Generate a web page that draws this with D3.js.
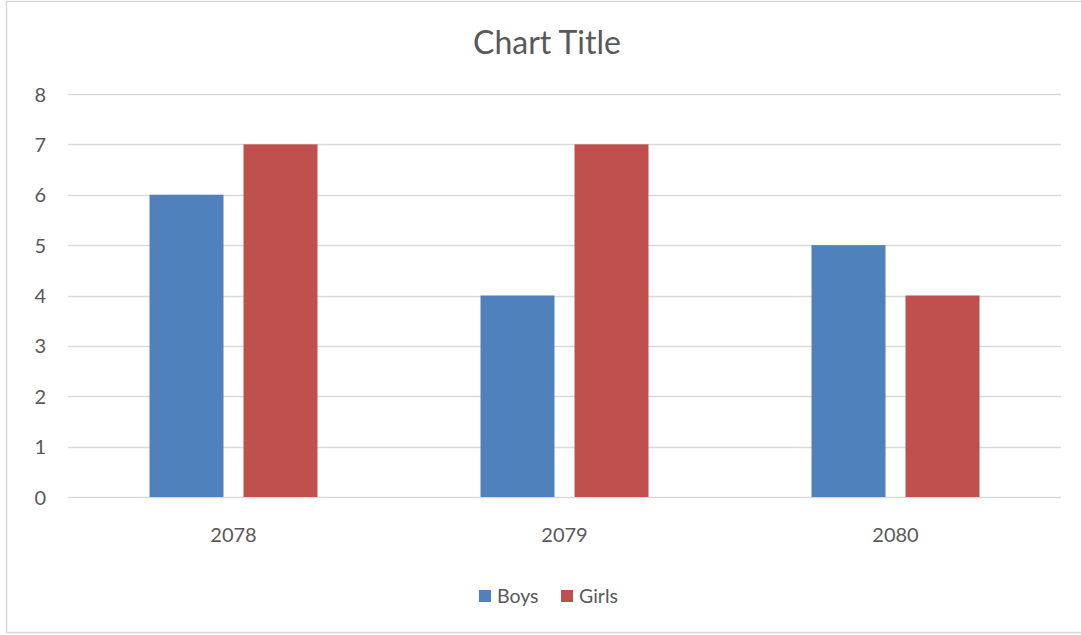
<!DOCTYPE html>
<html><head><meta charset="utf-8">
<script src="https://cdn.jsdelivr.net/npm/d3@7"></script>
<style>body{margin:0;background:#fff}svg{display:block}text{font-family:Lato,"Open Sans",sans-serif;fill:#595959}</style>
</head><body><svg id="c" width="1081" height="635"></svg>
<script>
const categories = ["2078", "2079", "2080"];
const seriesNames = ["Boys", "Girls"];
const boys = [6, 4, 5];
const girls = [7, 7, 4];
const yTicks = [0, 1, 2, 3, 4, 5, 6, 7, 8];
const colors = ["#4f81bd", "#c0504d"];

const svg = d3.select("#c");
svg.append("rect").attr("x", 6.5).attr("y", 1.5).attr("width", 1090).attr("height", 631)
  .attr("fill", "#fff").attr("stroke", "#d9d9d9").attr("stroke-width", 1.5);

const L = 68, R = 1061, T = 94, B = 497;
const x0 = d3.scaleBand().domain(categories).range([L, R]).paddingInner(0).paddingOuter(0);
const y = d3.scaleLinear().domain([0, 8]).range([B, T]);

// gridlines
svg.append("g").selectAll("line").data(yTicks).join("line")
  .attr("x1", L).attr("x2", R).attr("y1", d => Math.round(y(d)) + 0.5).attr("y2", d => Math.round(y(d)) + 0.5)
  .attr("stroke", "#d9d9d9").attr("stroke-width", 1.5);

// y labels
const yAxis = d3.axisLeft(y).tickValues(yTicks).tickSize(0).tickPadding(0);
const gy = svg.append("g").attr("transform", `translate(46,0)`).call(yAxis);
gy.select(".domain").remove();
gy.selectAll("text").attr("font-size", 20).attr("fill", "#595959").attr("text-anchor", "end").attr("dy", "0.35em");

// bars
const barW = 74, gap = 20;
const data = categories.map((c, i) => ({c, vals: [boys[i], girls[i]]}));
const g = svg.append("g");
data.forEach(d => {
  const cx = x0(d.c) + x0.bandwidth() / 2;
  d.vals.forEach((v, j) => {
    const bx = j === 0 ? cx - gap / 2 - barW : cx + gap / 2;
    g.append("rect").attr("x", bx).attr("y", y(v)).attr("width", barW).attr("height", y(0) - y(v)).attr("fill", colors[j]);
  });
});

// x labels
const xAxis = d3.axisBottom(x0).tickSize(0).tickPadding(0);
const gx = svg.append("g").attr("transform", `translate(0,${B + 38})`).call(xAxis);
gx.select(".domain").remove();
gx.selectAll("text").attr("font-size", 20).attr("fill", "#595959").attr("dy", "0.35em");

// title
svg.append("text").attr("x", 547).attr("y", 43).attr("dy", "0.35em").attr("text-anchor", "middle")
  .attr("font-size", 32).text("Chart Title");

// legend
const leg = svg.append("g");
const legX = [479, 561];
seriesNames.forEach((n, i) => {
  leg.append("rect").attr("x", legX[i]).attr("y", 590).attr("width", 12).attr("height", 12).attr("fill", colors[i]);
  leg.append("text").attr("x", legX[i] + 18).attr("y", 596).attr("dy", "0.35em").attr("font-size", 19.5).text(n);
});
</script></body></html>
